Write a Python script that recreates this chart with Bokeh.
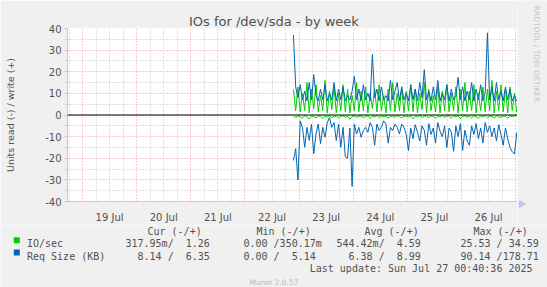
from math import pi
from bokeh.plotting import figure
from bokeh.layouts import row, column
from bokeh.models import Range1d, FixedTicker, Grid, Span
from bokeh.core.properties import value
from bokeh.embed import file_html
from bokeh.resources import INLINE

# ---------------- data ----------------
title_text = "IOs for /dev/sda - by week"
y_axis_text = "Units read (-) / write (+)"

# x axis: hours since 18 Jul 2025 00:00
x_start_h = 17.333   # 18 Jul 17:20
x_end_h = 216.833    # 27 Jul 00:50
day_tick_hours = [36, 60, 84, 108, 132, 156, 180, 204]
day_labels = ["19 Jul", "20 Jul", "21 Jul", "22 Jul", "23 Jul", "24 Jul", "25 Jul", "26 Jul"]
midnight_hours = [24, 48, 72, 96, 120, 144, 168, 192, 216]
quarter_day_hours = [h for h in range(18, 217, 6) if h % 24 != 0]

y_ticks = [-40, -30, -20, -10, 0, 10, 20, 30, 40]
y_labels = ["-40", "-30", "-20", "-10", "0", "10", "20", "30", "40"]
y_minor = [-35, -25, -15, -5, 5, 15, 25, 35]

# hourly samples, 22 Jul 21:30 .. 27 Jul 00:30
first_sample_h = 117.5
io_write = [
    11.8, 2, 13, 1.5, 10, 2, 15, 1, 12, 3,
    14, 1.5, 9, 2, 16, 1, 11, 2.5, 13, 1,
    10, 2, 14, 1.5, 12, 1, 9, 2, 15, 1.5,
    11, 2, 13, 1, 10, 3, 12, 1.5, 14, 2,
    9, 1, 12, 2, 15, 1.5, 10, 2, 13, 1,
    11, 2, 14, 1.5, 12, 1, 10, 2.5, 15, 1,
    12, 2, 9, 1.5, 13, 1, 11, 2, 14, 1.5,
    10, 2, 13, 1, 12, 2, 15, 1.5, 11, 2,
    14, 1, 10, 2, 13, 1.5, 12, 2, 16, 1,
    11, 2, 14, 1.5, 12, 1, 13, 2, 10, 1.26]
io_read = [
    -0.5, -1.2, -0.4, -0.8, -1.5, -0.3, -0.9, -1.8, -0.5, -0.7,
    -1.3, -0.4, -0.6, -1.6, -0.5, -0.9, -0.3, -1.2, -0.7, -0.5,
    -1.4, -0.6, -0.4, -1.0, -0.5, -2.0, -0.8, -0.4, -1.1, -0.6,
    -0.5, -1.3, -0.7, -0.4, -1.6, -0.5, -0.9, -0.3, -1.2, -0.6,
    -0.8, -0.4, -1.5, -0.6, -0.5, -1.1, -0.3, -0.7, -1.4, -0.5,
    -0.6, -1.0, -0.4, -1.7, -0.5, -0.8, -0.3, -1.2, -0.6, -0.5,
    -1.3, -0.4, -0.7, -1.5, -0.5, -0.9, -0.3, -1.1, -0.6, -0.4,
    -1.4, -0.5, -0.8, -0.3, -1.6, -0.6, -0.4, -1.0, -0.5, -1.3,
    -0.4, -0.7, -1.5, -0.5, -0.9, -0.3, -1.2, -0.6, -0.5, -1.4,
    -0.4, -0.8, -1.1, -0.5, -0.6, -1.5, -0.4, -0.7, -0.5, -0.32]
rq_write = [
    37, 13, 8, 14, 7, 11, 6.5, 15, 7, 18.7,
    9, 6.5, 12, 7, 14, 6.5, 10, 7, 15, 6.5,
    12, 7, 13, 6.5, 9, 7, 11, 17.9, 7, 12,
    6.5, 14, 7, 10, 6.5, 28, 8, 12, 6.5, 13,
    7, 9, 6.5, 16, 7, 11, 15, 6.5, 13, 7,
    10, 6.5, 14, 7, 12, 6.5, 15, 8, 21, 7,
    11, 6.5, 13, 7, 16, 6.5, 10, 7, 14, 6.5,
    12, 7, 9, 17.4, 7, 13, 6.5, 11, 7, 15,
    6.5, 12, 7, 14, 6.5, 10, 38, 7, 13, 6.5,
    15, 7, 11, 6.5, 13, 7, 12, 6.5, 9, 6.35]
rq_read = [
    -21, -15.6, -30, -2.7, -5.7, -14.9, -5.7, -11.8, -4.2, -17.9,
    -8.8, -4.2, -13.3, -5.7, -10.3, -3.5, -1.2, -5.7, -3.5, -11.8,
    -4.2, -14.9, -5.7, -19.4, -20, -6, -33, -4.2, -8.8, -5.7,
    -10.3, -7.2, -5.7, -8, -3.5, -5.7, -14, -4.2, -7.2, -5.7,
    -2.7, -4.2, -13, -5.7, -7.2, -4.2, -5.7, -8.8, -4.2, -5.7,
    -9, -16.4, -6, -11, -4.5, -8, -12, -5, -7, -14,
    -4, -9, -6, -13, -3.5, -7.5, -10, -5, -15, -6,
    -8, -16.8, -5, -10, -4, -16.4, -7, -12, -14, -5,
    -9, -4, -11, -6, -13, -3.5, -8, -5, -10, -6,
    -12, -4.5, -9, -14, -6, -11, -15, -17, -18, -8.14]
sample_hours = [first_sample_h + i for i in range(len(io_write))]

legend_headers = ["Cur (-/+)", "Min (-/+)", "Avg (-/+)", "Max (-/+)"]
series_names = ["IO/sec", "Req Size (KB)"]
series_colors = ["#00cc00", "#0066b3"]
io_stats = ["317.95m/  1.26", "0.00 /350.17m", "544.42m/  4.59", "25.53 / 34.59"]
rq_stats = ["  8.14 /  6.35", "0.00 /  5.14", "  6.38 /  8.99", "90.14 /178.71"]
last_update = "Last update: Sun Jul 27 00:40:36 2025"
version_text = "Munin 2.0.57"
watermark = "RRDTOOL / TOBI OETIKER"

# ---------------- layout geometry (canvas pixels) ----------------
W, H = 547, 287
FL, FT, FR, FB = 67, 28, 517, 203
MAIN_H = 225
BG = "#f0f0f0"
axis_col = "#c4c4f0"
text_col = "#505050"
red_grid = "#f09a9a"
gray_grid = "#c0c0c0"


def nb(s):
    return s.replace(" ", "\u00a0")


def no_align(fig):
    if "frame_align" in fig.properties():
        fig.frame_align = False


# ---------------- main plot ----------------
p = figure(width=FR, height=MAIN_H, output_backend="svg", toolbar_location=None,
           x_range=Range1d(x_start_h, x_end_h), y_range=Range1d(-40, 40),
           min_border_left=FL, min_border_right=0, min_border_top=FT,
           min_border_bottom=MAIN_H - FB, background_fill_color="white",
           border_fill_color=BG, outline_line_color=None)
no_align(p)

p.title.text = title_text
p.title.align = "left"
p.title.offset = 121.5
p.title.standoff = 0
p.title.text_font = "DejaVu Sans"
p.title.text_font_size = "13px"
p.title.text_font_style = "normal"
p.title.text_color = text_col

p.xaxis.ticker = FixedTicker(ticks=day_tick_hours)
p.xaxis.major_label_overrides = dict(zip(day_tick_hours, day_labels))
p.xaxis.major_tick_line_color = None
p.xaxis.minor_tick_line_color = None
p.xaxis.axis_line_color = axis_col
p.xaxis.major_label_standoff = 4
p.xaxis.major_label_text_font = "DejaVu Sans"
p.xaxis.major_label_text_font_size = "10px"
p.xaxis.major_label_text_color = text_col

p.yaxis.ticker = FixedTicker(ticks=y_ticks, minor_ticks=y_minor)
p.yaxis.major_label_overrides = dict(zip(y_ticks, y_labels))
p.yaxis.axis_line_color = axis_col
p.yaxis.major_tick_line_color = "#c8c8c8"
p.yaxis.minor_tick_line_color = "#c8c8c8"
p.yaxis.major_tick_out = 3
p.yaxis.major_tick_in = 0
p.yaxis.minor_tick_out = 2
p.yaxis.minor_tick_in = 0
p.yaxis.major_label_standoff = 3
p.yaxis.major_label_text_font = "DejaVu Sans"
p.yaxis.major_label_text_font_size = "10px"
p.yaxis.major_label_text_color = text_col
p.yaxis.axis_label = y_axis_text
p.yaxis.axis_label_standoff = 26
p.yaxis.axis_label_text_font = "DejaVu Sans"
p.yaxis.axis_label_text_font_size = "9.5px"
p.yaxis.axis_label_text_font_style = "normal"
p.yaxis.axis_label_text_color = text_col

p.ygrid.grid_line_color = red_grid
p.ygrid.grid_line_dash = "1 2"
p.ygrid.minor_grid_line_color = gray_grid
p.ygrid.minor_grid_line_dash = "1 2"
p.xgrid.visible = False
p.add_layout(Grid(dimension=0, ticker=FixedTicker(ticks=midnight_hours, minor_ticks=quarter_day_hours),
                  grid_line_color=red_grid, grid_line_dash="1 2",
                  minor_grid_line_color=gray_grid, minor_grid_line_dash="1 2"))

p.line(sample_hours, io_write, line_color=series_colors[0], line_width=1)
p.line(sample_hours, io_read, line_color=series_colors[0], line_width=1)
p.line(sample_hours, rq_write, line_color=series_colors[1], line_width=1)
p.line(sample_hours, rq_read, line_color=series_colors[1], line_width=1)
p.add_layout(Span(location=0, dimension="width", line_color="black", line_width=1))

# ---------------- right strip: watermark and axis arrow ----------------
rt = figure(width=W - FR, height=MAIN_H, output_backend="svg", toolbar_location=None,
            x_range=Range1d(FR, W), y_range=Range1d(MAIN_H, 0),
            x_axis_type=None, y_axis_type=None, min_border=0,
            background_fill_color=BG, border_fill_color=BG, outline_line_color=None)
no_align(rt)
rt.grid.visible = False
rt.text(x=[536], y=[53.5], text=[watermark], angle=-pi / 2, text_font=value("DejaVu Sans"),
        text_font_size="7.5px", text_color="#c4c4c4", text_align="center",
        text_baseline="middle")
rt.segment(x0=[FR], y0=[FB + 0.5], x1=[521], y1=[FB + 0.5], line_color=axis_col, line_width=1)
rt.scatter(x=[521], y=[FB + 0.5], marker="triangle", angle=-pi / 2, size=7,
           fill_color=axis_col, line_color=axis_col)

# ---------------- legend strip (pixel coordinates) ----------------
lg = figure(width=W, height=H - MAIN_H, output_backend="svg", toolbar_location=None,
            x_range=Range1d(0, W), y_range=Range1d(H, MAIN_H),
            x_axis_type=None, y_axis_type=None, min_border=0,
            background_fill_color=BG, border_fill_color=BG, outline_line_color=None)
no_align(lg)
lg.grid.visible = False

mono = value("DejaVu Sans Mono")
header_x = [147, 256, 364, 473]
stat_x = [125, 243, 336, 460]
row_base = [243.3, 255.7]
lg.text(x=header_x, y=[231] * 4, text=[nb(t) for t in legend_headers], text_font=mono,
        text_font_size="10px", text_color=text_col, text_baseline="alphabetic")
lg.rect(x=[16.3, 16.3], y=[rb - 3.6 for rb in row_base], width=6, height=6,
        fill_color=series_colors, line_color=None)
lg.text(x=[26.5, 26.5], y=row_base, text=[nb(t) for t in series_names], text_font=mono,
        text_font_size="10px", text_color=text_col, text_baseline="alphabetic")
for rb, stats in zip(row_base, [io_stats, rq_stats]):
    lg.text(x=stat_x, y=[rb] * 4, text=[nb(t) for t in stats], text_font=mono,
            text_font_size="10px", text_color=text_col, text_baseline="alphabetic")
lg.text(x=[532], y=[268], text=[nb(last_update)], text_font=mono, text_font_size="10px",
        text_color=text_col, text_baseline="alphabetic", text_align="right")
lg.text(x=[273.5], y=[282], text=[version_text], text_font=value("DejaVu Sans"),
        text_font_size="7.5px", text_color="#b8b8b8", text_baseline="alphabetic",
        text_align="center")

layout = column(row(p, rt, spacing=0), lg, spacing=0)
open("out.html", "w").write(file_html(layout, INLINE))
